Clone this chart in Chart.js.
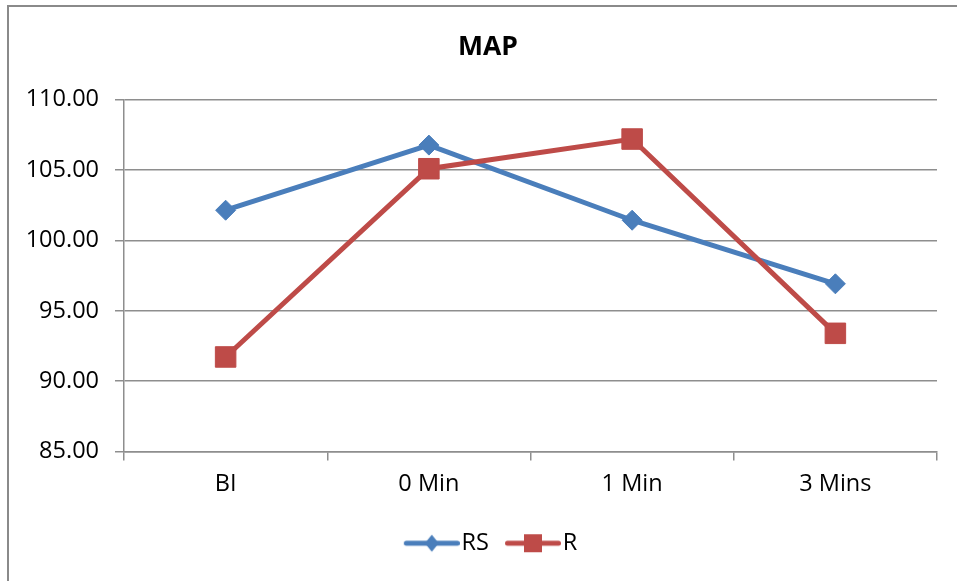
<!DOCTYPE html>
<html>
<head>
<meta charset="utf-8">
<title>MAP</title>
<script src="https://cdn.jsdelivr.net/npm/chart.js@4/dist/chart.umd.min.js"></script>
<style>
  html, body { margin: 0; padding: 0; background: #fff; overflow: hidden; }
  #wrap { position: relative; width: 957px; height: 581px; }
  #frame {
    position: absolute; left: 7px; top: 5px; width: 1000px; height: 574px;
    border-left: 2px solid #8a8a8a; border-top: 2px solid #8a8a8a;
    border-bottom: 1px solid #ececec;
  }
  #chart { position: absolute; left: 0; top: 0; }
</style>
</head>
<body>
<div id="wrap">
  <div id="frame"></div>
  <canvas id="chart" width="957" height="581"></canvas>
</div>
<script>
// Time points and mean arterial pressure for the two groups
const categories = ['BI', '0 Min', '1 Min', '3 Mins'];
const rsValues = [102.15, 106.78, 101.44, 96.92];
const rValues = [91.72, 105.10, 107.21, 93.40];
const seriesNames = ['RS', 'R'];
const yTicks = { min: 85, max: 110, step: 5 };

const BLUE = '#4a7ebb';
const RED = '#be4b48';
const GRID = '#8e8e8e';
const FONT = '"Open Sans", "Liberation Sans", sans-serif';

// Legend swatch: a short line with the series marker in its middle
function makeSwatch(color, shape) {
  const c = document.createElement('canvas');
  c.width = 71; c.height = 24;
  const g = c.getContext('2d');
  g.strokeStyle = color; g.fillStyle = color;
  g.lineWidth = 5; g.lineCap = 'round';
  g.beginPath(); g.moveTo(17.5, 12); g.lineTo(68.5, 12); g.stroke();
  const cx = 43, cy = 12;
  g.beginPath();
  if (shape === 'diamond') {
    g.moveTo(cx, cy - 8.5); g.lineTo(cx + 7, cy); g.lineTo(cx, cy + 8.5); g.lineTo(cx - 7, cy);
    g.closePath();
  } else {
    g.rect(cx - 9, cy - 9, 18, 18);
  }
  g.fill();
  return c;
}
const swatches = [makeSwatch(BLUE, 'diamond'), makeSwatch(RED, 'square')];

new Chart(document.getElementById('chart'), {
  type: 'line',
  data: {
    labels: categories,
    datasets: [
      {
        label: seriesNames[0], data: rsValues,
        borderColor: BLUE, backgroundColor: BLUE,
        borderWidth: 5, pointStyle: 'rectRot', pointRadius: 10,
        pointBorderWidth: 1, pointBackgroundColor: BLUE, pointBorderColor: BLUE,
        tension: 0, order: 1
      },
      {
        label: seriesNames[1], data: rValues,
        borderColor: RED, backgroundColor: RED,
        borderWidth: 5, pointStyle: 'rect', pointRadius: 14.5,
        pointBorderWidth: 1, pointBackgroundColor: RED, pointBorderColor: RED,
        tension: 0, order: 0
      }
    ]
  },
  options: {
    responsive: false,
    animation: false,
    events: [],
    layout: { padding: { left: 39, right: 20, top: 0, bottom: 16 } },
    scales: {
      x: {
        offset: true,
        grid: { display: true, drawOnChartArea: false, offset: true, tickLength: 9, color: GRID, lineWidth: 1.5 },
        border: { display: true, color: GRID, width: 1.5 },
        ticks: { color: '#000', font: { family: FONT, size: 23.5 }, padding: 10, maxRotation: 0 },
        afterFit: (scale) => { scale.height = 69; }
      },
      y: {
        min: yTicks.min, max: yTicks.max,
        grid: { color: GRID, lineWidth: 1.5, tickLength: 9 },
        border: { display: true, color: GRID, width: 1.5 },
        ticks: {
          stepSize: yTicks.step, color: '#000', padding: 16,
          font: { family: FONT, size: 23.5 },
          callback: (v) => Number(v).toFixed(2)
        },
        afterFit: (scale) => {
          scale.width = 85;
          // the tick labels reach a little left of the axis box; keep them unclipped
          scale._computeLabelArea = () => undefined;
        }
      }
    },
    plugins: {
      title: {
        display: true, text: 'MAP', color: '#000',
        font: { family: FONT, size: 26.5, weight: 'bold' },
        padding: { top: 32, bottom: 36 }
      },
      legend: {
        display: true, position: 'bottom',
        labels: {
          usePointStyle: true, pointStyleWidth: 51, padding: 11,
          color: '#000', font: { family: FONT, size: 23.5 },
          generateLabels: () => seriesNames.map((name, i) => ({
            text: name, pointStyle: swatches[i], datasetIndex: i,
            fillStyle: i ? RED : BLUE, strokeStyle: i ? RED : BLUE, lineWidth: 0, hidden: false
          }))
        }
      },
      tooltip: { enabled: false }
    }
  }
});
</script>
</body>
</html>
